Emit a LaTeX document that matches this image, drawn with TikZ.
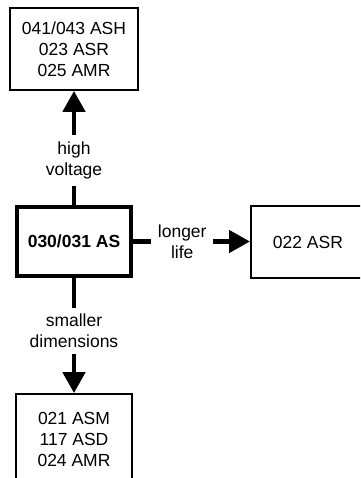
\documentclass[tikz,border=0pt]{standalone}
\usepackage{fontspec}
\setmainfont{Liberation Sans}
\usetikzlibrary{arrows.meta}
\begin{document}
\begin{tikzpicture}[x=1pt,y=-1pt,
  every node/.style={font=\fontsize{17.5}{21}\selectfont, align=center, text=black},
  box/.style={draw=black, line width=1.8pt, fill=white, inner sep=0pt},
  mainbox/.style={draw=black, line width=4.3pt, fill=white, inner sep=0pt, font=\fontsize{17.5}{21}\selectfont\bfseries},
  arr/.style={line width=4.6pt, -{Triangle[length=21pt,width=22pt]}},
  lab/.style={fill=white, inner sep=6.5pt}]
\useasboundingbox (0,0) rectangle (360,478);
\clip (0,0) rectangle (360,478);
\node[box, minimum width=128pt, minimum height=82pt] (t) at (74,49) {041/043 ASH\\023 ASR\\025 AMR};
\node[mainbox, minimum width=114pt, minimum height=69pt] (c) at (74,241.5) {030/031 AS};
\node[box, align=none, minimum width=150pt, minimum height=72pt, anchor=west] (r) at (250,242) {022 ASR\hspace*{36pt}};
\node[box, minimum width=116pt, minimum height=90pt] (b) at (74,439) {021 ASM\\117 ASD\\024 AMR};
\draw[arr] (c.north) -- (c.north |- t.south) node[lab, pos=0.39] {high\\voltage};
\draw[arr] (c.east) -- (c.east -| r.west) node[lab, pos=0.42] {longer\\life};
\draw[arr] (c.south) -- (c.south |- b.north) node[lab, pos=0.46] {smaller\\dimensions};
\end{tikzpicture}
\end{document}
